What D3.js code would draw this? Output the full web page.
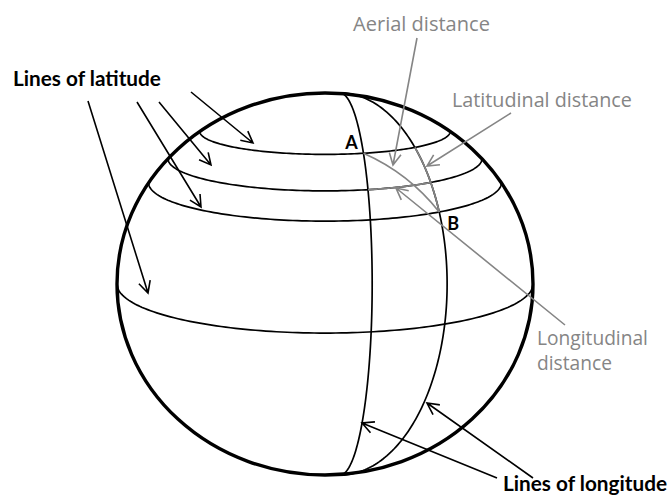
<!DOCTYPE html>
<html>
<head>
<meta charset="utf-8">
<script src="https://cdn.jsdelivr.net/npm/d3@7"></script>
<style>
  body { margin: 0; background: #fff; }
  svg { display: block; }
</style>
</head>
<body>
<div id="chart"></div>
<script>
// lines of latitude drawn on the front of the globe (degrees north)
var latitudes = [53, 41, 32, 0];
// lines of longitude (degrees east of the central meridian)
var longitudes = [8.9, 31];
// the two places
var places = [
  {name: "A", lat: 53, lon: 8.9},
  {name: "B", lat: 32, lon: 31}
];
// label texts
var latLabel = ["Lines of latitude"];
var lonLabel = ["Lines of longitude"];
var aerialLabel = ["Aerial distance"];
var latDistLabel = ["Latitudinal distance"];
var lonDistLabel = ["Longitudinal", "distance"];

var svgWidth = 669, svgHeight = 498;
var cx = 325, cy = 284, rx = 208, ry = 191;
var sag = 0.257;          // how far the front of a latitude circle hangs down
var merShift = 15 / rx;   // meridians meet the rim a little right of centre
var grey = "#858585";

var svg = d3.select("#chart").append("svg")
  .attr("width", svgWidth)
  .attr("height", svgHeight);

// globe frame: -1..1 both ways
var x = d3.scaleLinear().domain([-1, 1]).range([cx - rx, cx + rx]);
var y = d3.scaleLinear().domain([-1, 1]).range([cy + ry, cy - ry]);
var rad = Math.PI / 180;

function latPoint(lat, lam) {
  var c = Math.cos(lat * rad);
  return [x(c * Math.sin(lam * rad)),
          y(Math.sin(lat * rad) - sag * Math.pow(c, 1.5) * Math.cos(lam * rad))];
}
function merPoint(lon, phi) {
  return [x(merShift + Math.cos(phi * rad) * Math.sin(lon * rad)),
          y(Math.sin(phi * rad))];
}

// where meridian lon crosses the drawn latitude lat -> {phi, lam, p}
function crossing(lat, lon) {
  var best = null;
  for (var phi = -90; phi <= 90; phi += 0.05) {
    var p = merPoint(lon, phi);
    var u = x.invert(p[0]) / Math.cos(lat * rad);
    if (Math.abs(u) > 1) continue;
    var lam = Math.asin(u) / rad;
    var q = latPoint(lat, lam);
    var d = Math.abs(q[1] - p[1]);
    if (!best || d < best.d) best = {d: d, phi: phi, lam: lam, p: p};
  }
  return best;
}

var line = d3.line();
function latPath(lat, l0, l1) {
  return line(d3.range(l0, l1 + 0.001, (l1 - l0) / 120).map(function(l) { return latPoint(lat, l); }));
}
function merPath(lon, p0, p1) {
  return line(d3.range(p0, p1 + 0.001, (p1 - p0) / 160).map(function(f) { return merPoint(lon, f); }));
}

// latitude and longitude lines
svg.append("g").selectAll("path.lat")
  .data(latitudes).enter().append("path")
  .attr("d", function(d) { return latPath(d, -90, 90); })
  .attr("fill", "none").attr("stroke", "#000").attr("stroke-width", 1.7);

svg.append("g").selectAll("path.lon")
  .data(longitudes).enter().append("path")
  .attr("d", function(d) { return merPath(d, -90, 90); })
  .attr("fill", "none").attr("stroke", "#000").attr("stroke-width", 1.7);

// the distances between A and B, in grey
var cA = crossing(places[0].lat, places[0].lon);
var cB = crossing(places[1].lat, places[1].lon);
var midLat = latitudes[1];
var m1 = crossing(midLat, longitudes[0]);
var m2 = crossing(midLat, longitudes[1]);
var topOnM2 = crossing(places[0].lat, places[1].lon);

var g2 = svg.append("g").attr("fill", "none").attr("stroke", grey).attr("stroke-width", 1.7);
g2.append("path").attr("d", merPath(places[1].lon, cB.phi, topOnM2.phi));
g2.append("path").attr("d", latPath(midLat, m1.lam, m2.lam));

// aerial distance, bowed a little like a great circle
var A = cA.p, B = cB.p;
var mx = (A[0] + B[0]) / 2, my = (A[1] + B[1]) / 2;
var dx = B[0] - A[0], dy = B[1] - A[1], len = Math.hypot(dx, dy);
var ctrl = [mx + dy / len * 12, my - dx / len * 12];
var aer = d3.path();
aer.moveTo(A[0], A[1]);
aer.quadraticCurveTo(ctrl[0], ctrl[1], B[0], B[1]);
g2.append("path").attr("d", aer.toString());

// globe outline
svg.append("ellipse")
  .attr("cx", x(0)).attr("cy", y(0))
  .attr("rx", x(1) - x(0)).attr("ry", y(-1) - y(0))
  .attr("fill", "none").attr("stroke", "#000").attr("stroke-width", 3.4);

// arrows: from label to target
var arrows = [
  {from: [88, 101], to: [148, 293], color: "#000"},
  {from: [137, 102], to: [201, 207], color: "#000"},
  {from: [159, 102], to: [211, 165], color: "#000"},
  {from: [191, 92], to: [253, 143], color: "#000"},
  {from: [497, 478], to: [362, 423], color: "#000"},
  {from: [533, 478], to: [427, 403], color: "#000"},
  {from: [417, 38], to: [393, 165], color: grey},
  {from: [511, 113], to: [427, 166], color: grey},
  {from: [565, 325], to: [396, 188], color: grey}
];

function arrowPath(a) {
  var ang = Math.atan2(a.from[1] - a.to[1], a.from[0] - a.to[0]);
  var L = 13, w = 27 * rad;
  var p = d3.path();
  p.moveTo(a.from[0], a.from[1]);
  p.lineTo(a.to[0], a.to[1]);
  p.moveTo(a.to[0] + L * Math.cos(ang - w), a.to[1] + L * Math.sin(ang - w));
  p.lineTo(a.to[0], a.to[1]);
  p.lineTo(a.to[0] + L * Math.cos(ang + w), a.to[1] + L * Math.sin(ang + w));
  return p.toString();
}

svg.append("g").selectAll("path")
  .data(arrows).enter().append("path")
  .attr("d", arrowPath)
  .attr("fill", "none")
  .attr("stroke", function(d) { return d.color; })
  .attr("stroke-width", 1.6);

// point labels
var offsets = {A: [-12, -4], B: [14, 18]};
svg.append("g").selectAll("text")
  .data(places).enter().append("text")
  .attr("x", function(d, i) { return (i ? cB : cA).p[0] + offsets[d.name][0]; })
  .attr("y", function(d, i) { return (i ? cB : cA).p[1] + offsets[d.name][1]; })
  .attr("text-anchor", "middle")
  .attr("font-family", "Lato, sans-serif")
  .attr("font-size", 18).attr("font-weight", "bold")
  .text(function(d) { return d.name; });

// text labels, font size fitted so the first line is as wide as in the picture
function label(lines, xx, yy, width, color, weight, family) {
  var t = svg.append("text")
    .attr("x", xx).attr("y", yy)
    .attr("fill", color)
    .attr("font-family", family)
    .attr("font-size", 20)
    .attr("font-weight", weight);
  var spans = lines.map(function(s, i) {
    return t.append("tspan").attr("x", xx).text(s);
  });
  var w = spans[0].node().getComputedTextLength();
  var fs = 20 * width / w;
  t.attr("font-size", fs.toFixed(2));
  spans.forEach(function(s, i) { s.attr("dy", i ? 25 : 0); });
}
label(latLabel, 13, 86, 148, "#000", "bold", "Lato, sans-serif");
label(lonLabel, 503, 491, 164, "#000", "bold", "Lato, sans-serif");
label(aerialLabel, 353, 31, 137, grey, "normal", "'Open Sans', sans-serif");
label(latDistLabel, 452, 107, 180, grey, "normal", "'Open Sans', sans-serif");
label(lonDistLabel, 537, 345, 111, grey, "normal", "'Open Sans', sans-serif");
</script>
</body>
</html>
